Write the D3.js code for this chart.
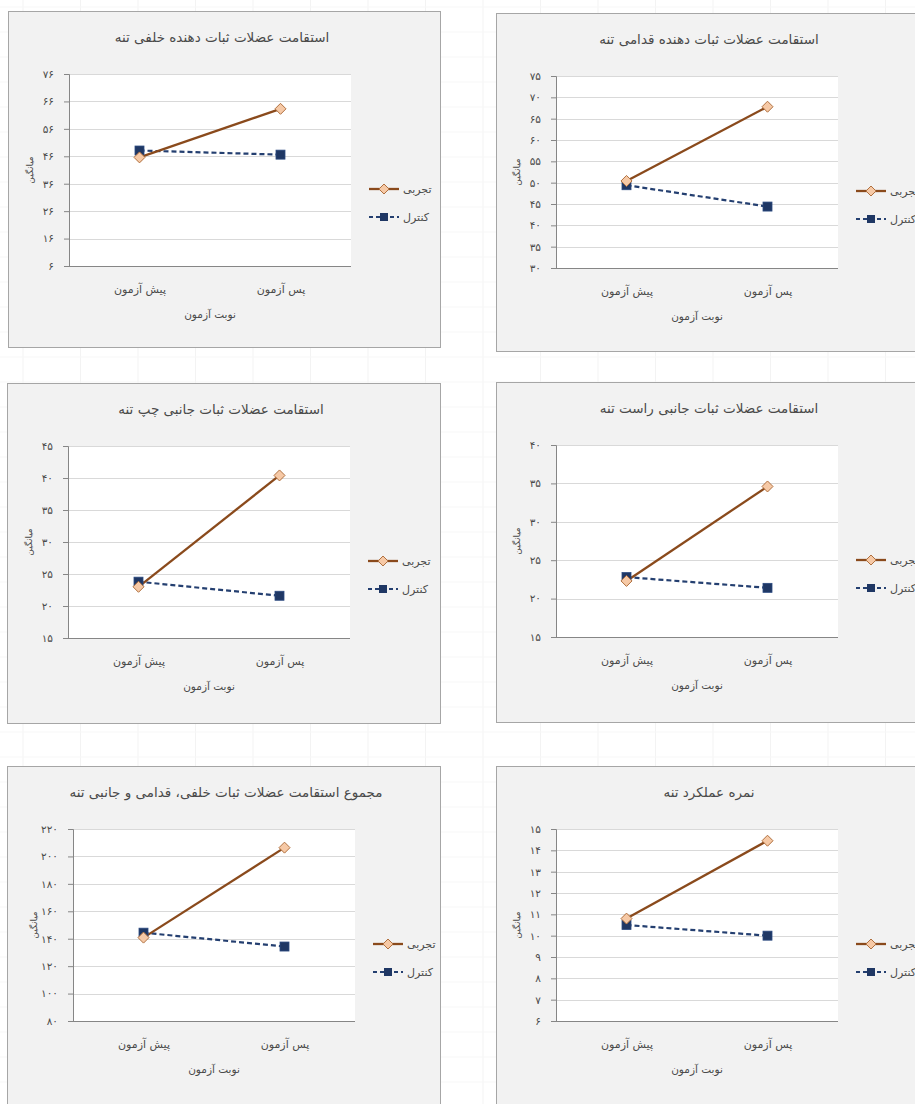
<html>
<head>
  <style>
    body { margin: 0; background: #fff; }
  </style>
</head>
<body>
<script src="https://cdnjs.cloudflare.com/ajax/libs/d3/7.8.5/d3.min.js"></script>
<script>
  // chart data, one entry per panel
  var titles = [
    "استقامت عضلات ثبات دهنده خلفی تنه",
    "استقامت عضلات ثبات دهنده قدامی تنه",
    "استقامت عضلات ثبات جانبی چپ تنه",
    "استقامت عضلات ثبات جانبی راست تنه",
    "مجموع استقامت عضلات ثبات خلفی، قدامی و جانبی تنه",
    "نمره عملکرد تنه"
  ];
  var categories = ["پیش آزمون", "پس آزمون"];
  var seriesNames = ["تجربی", "کنترل"];
  var xTitle = "نوبت آزمون";
  var yTitle = "میانگین";

  // experimental group (pre, post)
  var expValues = [[45.6, 63.3], [50.4, 67.8], [23.0, 40.4], [22.3, 34.6], [140.8, 206.4], [10.8, 14.45]];
  // control group (pre, post)
  var ctrlValues = [[48.1, 46.6], [49.4, 44.4], [23.8, 21.6], [22.8, 21.4], [144.4, 134.3], [10.5, 10.0]];

  var yTicks = [
    [6, 16, 26, 36, 46, 56, 66, 76],
    [30, 35, 40, 45, 50, 55, 60, 65, 70, 75],
    [15, 20, 25, 30, 35, 40, 45],
    [15, 20, 25, 30, 35, 40],
    [80, 100, 120, 140, 160, 180, 200, 220],
    [6, 7, 8, 9, 10, 11, 12, 13, 14, 15]
  ];

  // layout of each chart box on the page: x, y, w, h, left inset of plot
  var panels = [
    [8, 11, 432, 336, 61],
    [496, 13, 433, 338, 60],
    [7, 383, 433, 340, 61],
    [496, 382, 433, 340, 60],
    [7, 766, 433, 345, 66],
    [496, 766, 433, 345, 60]
  ];

  var width = 915, height = 1104;
  var font = "DejaVu Sans";
  var textColor = "#4a4a4a";

  // to persian digits
  var fa = function(n){
    return String(n).replace(/\d/g, function(d){ return "۰۱۲۳۴۵۶۷۸۹"[+d]; });
  };

  // diamond marker as a rotated square
  var diamond = function(s){
    return 'M0,' + (-s) + 'L' + s + ',0L0,' + s + 'L' + (-s) + ',0Z';
  };

  var svg = d3.select('body')
              .append('svg')
              .attr('width', width)
              .attr('height', height);

  // faint spreadsheet cell lines behind the charts
  var sheet = svg.append('g');
  sheet.selectAll('line.v')
    .data(d3.range(23, width, 57.5))
    .enter().append('line')
    .attr('x1', function(d){ return d; }).attr('x2', function(d){ return d; })
    .attr('y1', 0).attr('y2', height)
    .attr('stroke', '#f3f3f3');
  sheet.selectAll('line.h')
    .data(d3.range(7, height, 25))
    .enter().append('line')
    .attr('x1', 0).attr('x2', width)
    .attr('y1', function(d){ return d; }).attr('y2', function(d){ return d; })
    .attr('stroke', '#f7f7f7');

  var plotW = 282, plotTop = 63, plotH = 192;

  for (var i = 0; i < titles.length; i++) {
    var p = panels[i];
    var g = svg.append('g').attr('transform', 'translate(' + p[0] + ',' + p[1] + ')');

    // chart box
    g.append('rect')
      .attr('x', 0.5).attr('y', 0.5)
      .attr('width', p[2]).attr('height', p[3])
      .attr('fill', '#f2f2f2')
      .attr('stroke', '#a6a6a6');

    var left = p[4];
    var x = d3.scalePoint().domain(categories).range([left, left + plotW]).padding(0.5);
    var y = d3.scaleLinear().domain(d3.extent(yTicks[i])).range([plotTop + plotH, plotTop]);

    // plot area
    g.append('rect')
      .attr('x', left).attr('y', plotTop)
      .attr('width', plotW).attr('height', plotH)
      .attr('fill', '#fff');

    // gridlines
    g.selectAll('line.grid')
      .data(yTicks[i].slice(1))
      .enter().append('line')
      .attr('x1', left).attr('x2', left + plotW)
      .attr('y1', function(d){ return Math.round(y(d)) + 0.5; })
      .attr('y2', function(d){ return Math.round(y(d)) + 0.5; })
      .attr('stroke', '#d9d9d9');

    // y axis
    var yAxis = g.append('g')
      .attr('transform', 'translate(' + left + ',0)')
      .call(d3.axisLeft(y).tickValues(yTicks[i]).tickSize(5).tickPadding(10).tickFormat(fa));
    yAxis.select('.domain').attr('stroke', '#868686');
    yAxis.selectAll('.tick line').attr('stroke', '#868686');
    yAxis.selectAll('text')
      .attr('font-family', font).attr('font-size', 10.5).attr('fill', textColor);

    // x axis
    var xAxis = g.append('g')
      .attr('transform', 'translate(0,' + (plotTop + plotH) + ')')
      .call(d3.axisBottom(x).tickSize(0).tickPadding(19));
    xAxis.select('.domain').attr('stroke', '#868686').attr('d', 'M' + left + ',0.5H' + (left + plotW));
    xAxis.selectAll('text')
      .attr('font-family', font).attr('font-size', 11).attr('fill', textColor);

    // title
    g.append('text')
      .attr('x', left + plotW / 2 + 12)
      .attr('y', 31)
      .attr('text-anchor', 'middle')
      .attr('font-family', font).attr('font-size', 13.5).attr('fill', textColor)
      .text(titles[i]);

    // axis titles
    g.append('text')
      .attr('x', left + plotW / 2)
      .attr('y', plotTop + plotH + 52)
      .attr('text-anchor', 'middle')
      .attr('font-family', font).attr('font-size', 10.5).attr('fill', textColor)
      .text(xTitle);
    g.append('text')
      .attr('transform', 'translate(' + (left - 36) + ',' + (plotTop + plotH / 2) + ') rotate(-90)')
      .attr('text-anchor', 'middle')
      .attr('font-family', font).attr('font-size', 9).attr('fill', textColor)
      .text(yTitle);

    var line = d3.line()
      .x(function(d, j){ return x(categories[j]); })
      .y(function(d){ return y(d); });

    // control series
    g.append('path')
      .attr('d', line(ctrlValues[i]))
      .attr('fill', 'none')
      .attr('stroke', '#243f70')
      .attr('stroke-width', 2.2)
      .attr('stroke-dasharray', '5,3');
    // experimental series
    g.append('path')
      .attr('d', line(expValues[i]))
      .attr('fill', 'none')
      .attr('stroke', '#8a4a1c')
      .attr('stroke-width', 2.3);

    g.selectAll('rect.ctrl')
      .data(ctrlValues[i])
      .enter().append('rect')
      .attr('x', function(d, j){ return x(categories[j]) - 4.5; })
      .attr('y', function(d){ return y(d) - 4.5; })
      .attr('width', 9).attr('height', 9)
      .attr('fill', '#1f3764').attr('stroke', '#2b4a80').attr('stroke-width', 0.8);

    g.selectAll('path.exp')
      .data(expValues[i])
      .enter().append('path')
      .attr('d', diamond(5.5))
      .attr('transform', function(d, j){ return 'translate(' + x(categories[j]) + ',' + y(d) + ')'; })
      .attr('fill', '#f6c9a6').attr('stroke', '#b0703f').attr('stroke-width', 1);

    // legend
    var lx = left + plotW + 18, ly = plotTop + 115;
    var leg = g.append('g');
    leg.append('line')
      .attr('x1', lx).attr('x2', lx + 30).attr('y1', ly).attr('y2', ly)
      .attr('stroke', '#8a4a1c').attr('stroke-width', 2.3);
    leg.append('path')
      .attr('d', diamond(5))
      .attr('transform', 'translate(' + (lx + 15) + ',' + ly + ')')
      .attr('fill', '#f6c9a6').attr('stroke', '#b0703f');
    leg.append('line')
      .attr('x1', lx).attr('x2', lx + 30).attr('y1', ly + 28).attr('y2', ly + 28)
      .attr('stroke', '#243f70').attr('stroke-width', 2.2).attr('stroke-dasharray', '4,3');
    leg.append('rect')
      .attr('x', lx + 11).attr('y', ly + 24).attr('width', 8).attr('height', 8)
      .attr('fill', '#1f3764');
    leg.selectAll('text')
      .data(seriesNames)
      .enter().append('text')
      .attr('x', lx + 34)
      .attr('y', function(d, j){ return ly + 4 + j * 28; })
      .attr('font-family', font).attr('font-size', 11).attr('fill', textColor)
      .text(function(d){ return d; });
  }
</script>
</body>
</html>
